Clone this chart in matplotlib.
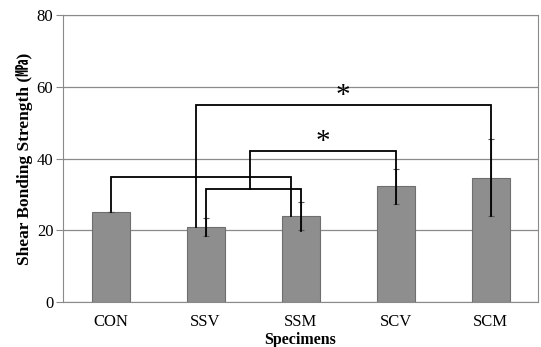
import matplotlib.pyplot as plt
import numpy as np

specimens = ["CON", "SSV", "SSM", "SCV", "SCM"]
means = [25.0, 20.8, 24.1, 32.2, 34.7]
errs = [0.0, 2.5, 3.9, 4.8, 10.7]

# brackets: (x_left, x_right, y_bar, y_left_end, y_right_end)
brackets = [
  (0.0, 1.9, 34.8, 25.0, 24.1),
  (1.0, 2.0, 31.4, 18.3, 19.9),
  (1.47, 3.0, 42.0, 31.4, 27.4),
  (0.9, 4.0, 54.9, 21.0, 24.0),
]
# significance stars: (x, y)
stars = [(2.24, 44.6), (2.45, 57.3)]

plt.rcParams["font.family"] = ["Liberation Serif", "Noto Sans CJK KR"]

fig = plt.figure(figsize=(5.41, 3.47), dpi=100)
ax = fig.add_axes([0.1165, 0.1297, 0.878, 0.827])

x = np.arange(len(specimens))
ax.bar(x, means, width=0.4, color="#8e8e8e", edgecolor="#6e6e6e",
       linewidth=0.8, zorder=2)
ax.errorbar(x, means, yerr=errs, fmt="none", ecolor="#555555",
            elinewidth=0.8, capsize=2.5, capthick=0.8, zorder=3)

for xl, xr, yb, yl, yr in brackets:
  ax.plot([xl, xl, xr, xr], [yl, yb, yb, yr], color="black", lw=1.3,
          zorder=4, solid_joinstyle="miter")
for sx, sy in stars:
  ax.text(sx, sy, "*", ha="center", va="center", fontsize=21, zorder=5)

ax.set_xlim(-0.5, 4.5)
ax.set_ylim(0, 80)
ax.set_yticks([0, 20, 40, 60, 80])
ax.set_xticks(x)
ax.set_xticklabels(specimens)
ax.grid(axis="y", color="#8a8a8a", lw=0.9, zorder=0)
ax.set_axisbelow(True)
for side in ["left", "bottom", "right", "top"]:
  ax.spines[side].set_color("#8a8a8a")
ax.tick_params(axis="y", length=5, color="#8a8a8a", labelsize=12, pad=2)
ax.tick_params(axis="x", length=0, labelsize=12, pad=9)
ax.set_xlabel("Specimens", fontsize=11.5, fontweight="bold", labelpad=1)
ax.set_ylabel("Shear Bonding Strength (\u33ab)", fontsize=12.5,
              fontweight="bold", labelpad=3)

fig.savefig("out.png", dpi=100)
